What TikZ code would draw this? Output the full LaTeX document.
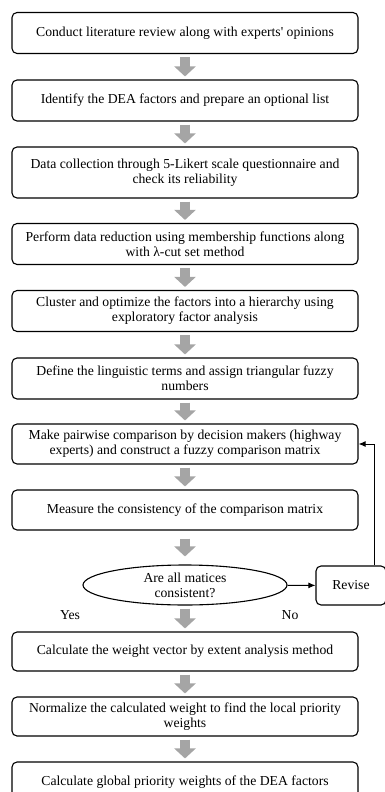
\documentclass[tikz,border=0pt]{standalone}
\usepackage{fontspec}
\setmainfont{Liberation Serif}
\usetikzlibrary{arrows.meta,shapes.geometric}
\definecolor{arrowgray}{RGB}{165,165,165}

\tikzset{
  stepbox/.style={draw, line width=1.1pt, rounded corners=5pt, minimum width=346pt,
    minimum height=41pt, align=center, font=\fontsize{13.7}{15.3}\selectfont},
  decision/.style={draw, line width=1.1pt, ellipse, minimum width=204pt, minimum height=40pt,
    inner sep=0pt, align=center, font=\fontsize{13.7}{15.3}\selectfont},
  blockarrow/.style={draw=arrowgray, line width=10pt, shorten <=3pt, shorten >=3pt,
    -{Triangle[width=21pt,length=10pt]}},
  loopline/.style={line width=1pt, -{Latex[length=7pt,width=6pt]}},
  plain/.style={font=\fontsize{13.7}{15.3}\selectfont}
}

\begin{document}
\begin{tikzpicture}[x=1pt,y=-1pt]
\useasboundingbox (0,0) rectangle (385,792);
\clip (0,0) rectangle (385,792);

\node [stepbox] (s1) at (185,33) {Conduct literature review along with experts\textquotesingle{} opinions};
\node [stepbox] (s2) at (185,100.5) {Identify the DEA factors and prepare an optional list};
\node [stepbox, minimum height=51pt] (s3) at (185,172.5) {Data collection through 5-Likert scale questionnaire and\\check its reliability};
\node [stepbox] (s4) at (185,244) {Perform data reduction using membership functions along\\with λ-cut set method};
\node [stepbox] (s5) at (185,311) {Cluster and optimize the factors into a hierarchy using\\exploratory factor analysis};
\node [stepbox] (s6) at (185,378.5) {Define the linguistic terms and assign triangular fuzzy\\numbers};
\node [stepbox, minimum height=40pt] (s7) at (185,444) {Make pairwise comparison by decision makers (highway\\experts) and construct a fuzzy comparison matrix};
\node [stepbox, minimum height=40pt] (s8) at (185,510) {Measure the consistency of the comparison matrix};
\node [decision] (check) at (185,585) {Are all matices\\consistent?};
\node [stepbox, minimum height=39pt] (s9) at (185,651.5) {Calculate the weight vector by extent analysis method};
\node [stepbox, minimum height=39pt] (s10) at (185,716.5) {Normalize the calculated weight to find the local priority\\weights};
\node [stepbox, minimum height=40pt] (s11) at (185,782) {Calculate global priority weights of the DEA factors};

\node [draw, line width=1.1pt, rounded corners=5pt, minimum width=70pt, minimum height=39pt,
  font=\fontsize{13.7}{15.3}\selectfont] (revise) at (351,585.5) {Revise};
\node [plain] (yes) at (70,615) {Yes};
\node [plain] (no) at (290,615) {No};

\draw [blockarrow] (s1) -- (s2);
\draw [blockarrow] (s2) -- (s3);
\draw [blockarrow] (s3) -- (s4);
\draw [blockarrow] (s4) -- (s5);
\draw [blockarrow] (s5) -- (s6);
\draw [blockarrow] (s6) -- (s7);
\draw [blockarrow] (s7) -- (s8);
\draw [blockarrow, shorten <=8pt, shorten >=8pt] (s8) -- (check);
\draw [blockarrow] (check) -- (s9);
\draw [blockarrow] (s9) -- (s10);
\draw [blockarrow] (s10) -- (s11);

\coordinate (turn) at (374,444);
\draw [loopline] (check) -- (revise);
\draw [loopline] (revise.north -| turn) |- (s7.east);

\end{tikzpicture}
\end{document}
